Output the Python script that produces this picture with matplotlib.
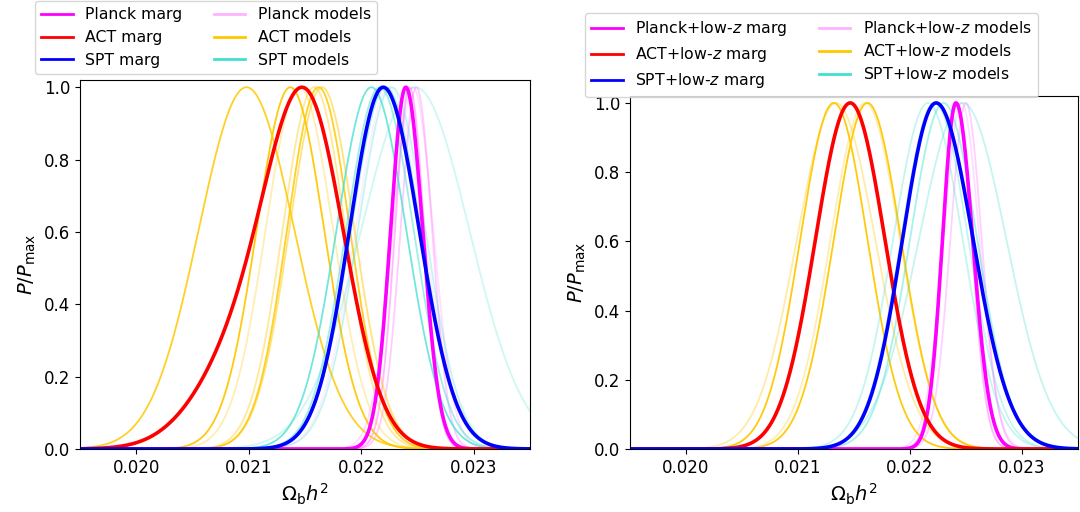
import numpy as np
import matplotlib
matplotlib.use("Agg")
import matplotlib.pyplot as plt

# x range of Omega_b h^2 shown in both panels
x_lo, x_hi = 0.0195, 0.0235
x_ticks = [0.020, 0.021, 0.022, 0.023]
y_ticks = [0.0, 0.2, 0.4, 0.6, 0.8, 1.0]

colors = {"Planck": "#FF00FF", "ACT": "#FF0000", "SPT": "#0000FF"}
model_colors = {"Planck": "#FF00FF", "ACT": "#FFC800", "SPT": "#40E0D0"}

# --- left panel: CMB only ---
# marginalised posteriors (peak, sigma left, sigma right) plus a broad extra component
left_marg_mu = [0.022396, 0.021525, 0.022195]
left_marg_sl = [0.000135, 0.000350, 0.000300]
left_marg_sr = [0.000150, 0.000340, 0.000320]
left_tail_mu = [0.0224, 0.020980, 0.0222]
left_tail_sig = [0.0003, 0.000420, 0.0003]
left_tail_w = [0.0, 0.30, 0.0]

left_planck_mu = [0.02243, 0.02249, 0.02246, 0.02225]
left_planck_sig = [0.00013, 0.00014, 0.00018, 0.00030]
left_planck_alpha = [0.28, 0.2, 0.13, 0.07]

left_act_mu = [0.02098, 0.02137, 0.02162, 0.02165, 0.02158, 0.02145]
left_act_sig = [0.000425, 0.00030, 0.00028, 0.00029, 0.00028, 0.00030]
left_act_alpha = [0.85, 0.95, 0.85, 0.5, 0.4, 0.3]

left_spt_mu = [0.02209, 0.022165, 0.02222, 0.02227, 0.02248]
left_spt_sig = [0.00031, 0.00030, 0.00031, 0.00030, 0.00048]
left_spt_alpha = [0.75, 0.5, 0.4, 0.3, 0.25]

# --- right panel: CMB + low-z ---
right_marg_mu = [0.02241, 0.021466, 0.022233]
right_marg_sl = [0.000120, 0.000310, 0.000300]
right_marg_sr = [0.000150, 0.000310, 0.000330]

right_planck_mu = [0.02242, 0.02250, 0.02246]
right_planck_sig = [0.00013, 0.00014, 0.00016]
right_planck_alpha = [0.28, 0.18, 0.13]

right_act_mu = [0.02132, 0.02162, 0.02134, 0.02160]
right_act_sig = [0.00030, 0.00030, 0.00035, 0.00031]
right_act_alpha = [0.95, 0.95, 0.35, 0.3]

right_spt_mu = [0.02216, 0.02222, 0.02247, 0.02230]
right_spt_sig = [0.00031, 0.00030, 0.00039, 0.00030]
right_spt_alpha = [0.3, 0.3, 0.3, 0.45]

x = np.linspace(x_lo, x_hi, 1200)


def split_normal(mu, sl, sr):
    s = np.where(x < mu, sl, sr)
    return np.exp(-0.5 * ((x - mu) / s) ** 2)


def draw_panel(ax, marg_mu, marg_sl, marg_sr, models, tails, suffix):
    names = ["Planck", "ACT", "SPT"]
    # model curves first, underneath
    for name, (mus, sigs, alphas) in zip(names, models):
        for m, s, a in zip(mus, sigs, alphas):
            ax.plot(x, split_normal(m, s, s), color=model_colors[name],
                    alpha=a, lw=1.3)
    for i, name in enumerate(names):
        y = split_normal(marg_mu[i], marg_sl[i], marg_sr[i])
        if tails is not None and tails[2][i] > 0:
            y = y + tails[2][i] * split_normal(tails[0][i], tails[1][i], tails[1][i])
        y = y / y.max()
        ax.plot(x, y, color=colors[name], lw=2.6)

    ax.set_xlim(x_lo, x_hi)
    ax.set_ylim(0, 1.02)
    ax.set_xticks(x_ticks)
    ax.set_xticklabels(["%.3f" % t for t in x_ticks])
    ax.set_yticks(y_ticks)
    ax.tick_params(labelsize=12)
    ax.set_xlabel(r"$\Omega_{\rm b} h^2$", fontsize=14)
    ax.set_ylabel(r"$P/P_{\rm max}$", fontsize=14)

    # legend handles
    handles = []
    labels = []
    for name in names:
        h, = ax.plot([], [], color=colors[name], lw=2)
        handles.append(h)
        labels.append(name + suffix + " marg")
    for name, a in zip(names, [0.3, 1.0, 1.0]):
        h, = ax.plot([], [], color=model_colors[name], lw=2, alpha=a)
        handles.append(h)
        labels.append(name + suffix + " models")
    return handles, labels


fig = plt.figure(figsize=(10.8, 5.12), dpi=100)
ax1 = fig.add_axes([80 / 1080, 63 / 512, 450 / 1080, 369 / 512])
ax2 = fig.add_axes([630 / 1080, 63 / 512, 448 / 1080, 353 / 512])

h, l = draw_panel(ax1, left_marg_mu, left_marg_sl, left_marg_sr,
                  [(left_planck_mu, left_planck_sig, left_planck_alpha),
                   (left_act_mu, left_act_sig, left_act_alpha),
                   (left_spt_mu, left_spt_sig, left_spt_alpha)],
                  (left_tail_mu, left_tail_sig, left_tail_w), "")
ax1.legend(h, l, ncol=2, fontsize=11.3, loc="upper left",
           bbox_to_anchor=(35 / 1080, 1 - 1 / 512), bbox_transform=fig.transFigure,
           borderaxespad=0, handlelength=2.0, labelspacing=0.5, columnspacing=2.0)

h, l = draw_panel(ax2, right_marg_mu, right_marg_sl, right_marg_sr,
                  [(right_planck_mu, right_planck_sig, right_planck_alpha),
                   (right_act_mu, right_act_sig, right_act_alpha),
                   (right_spt_mu, right_spt_sig, right_spt_alpha)],
                  None, r"+low-$z$")
ax2.legend(h, l, ncol=2, fontsize=11.3, loc="upper left",
           bbox_to_anchor=(585 / 1080, 1 - 13 / 512), bbox_transform=fig.transFigure,
           borderaxespad=0, handlelength=2.0, labelspacing=0.45, columnspacing=2.0)

fig.savefig("out.png", dpi=100)
